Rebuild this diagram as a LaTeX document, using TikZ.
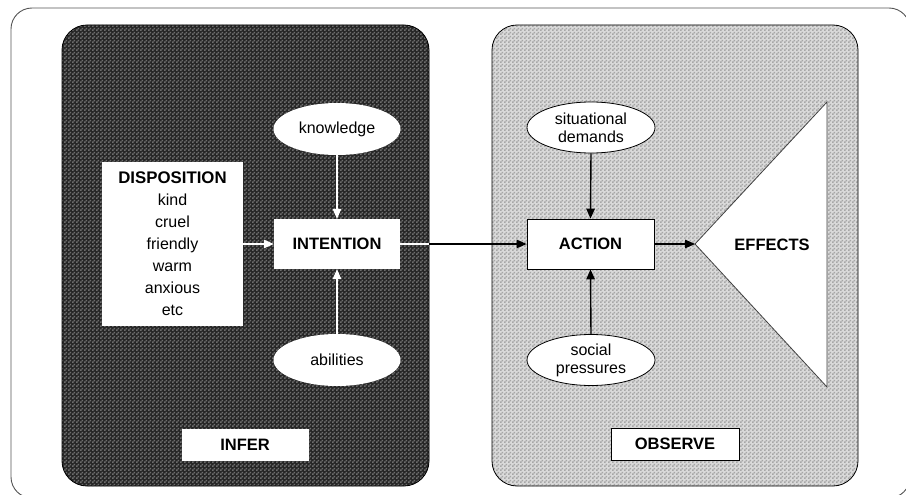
\documentclass[tikz,border=0pt]{standalone}
\usepackage{fontspec}
\setmainfont{Liberation Sans}
\usetikzlibrary{arrows.meta,shapes.geometric,patterns}

% fine two-tone checker used as the panel texture
\pgfdeclarepatternformonly{checkerfine}{\pgfpointorigin}{\pgfpoint{4pt}{4pt}}{\pgfpoint{4pt}{4pt}}{%
  \pgfpathrectangle{\pgfpointorigin}{\pgfpoint{2pt}{2pt}}%
  \pgfpathrectangle{\pgfpoint{2pt}{2pt}}{\pgfpoint{2pt}{2pt}}%
  \pgfusepath{fill}}

\definecolor{darkbase}{HTML}{262626}
\definecolor{darkdots}{HTML}{6E6E6E}
\definecolor{lightbase}{HTML}{DADADA}
\definecolor{lightdots}{HTML}{A6A6A6}
\definecolor{framegray}{HTML}{555555}

\begin{document}
\begin{tikzpicture}[x=1pt,y=-1pt,
  txt/.style={font=\fontsize{16}{18}\selectfont},
  heavy/.style={font=\fontsize{16.5}{20}\selectfont\bfseries},
  panel/.style={draw=black, line width=0.8pt, rounded corners=25pt, inner sep=0pt,
    minimum height=461pt, pattern=checkerfine},
  darkpanel/.style={panel, preaction={fill=darkbase}, pattern color=darkdots},
  lightpanel/.style={panel, preaction={fill=lightbase}, pattern color=lightdots},
  whitebox/.style={rectangle, fill=white, inner sep=0pt},
  linebox/.style={whitebox, draw=black, line width=0.8pt},
  whiteoval/.style={ellipse, fill=white, inner sep=0pt, minimum width=127pt,
    minimum height=52pt, align=center, txt},
  lineoval/.style={whiteoval, draw=black, line width=0.8pt},
  flow/.style={line width=1.4pt, -{Triangle[length=10pt,width=8.5pt]}},
  whiteflow/.style={flow, draw=white},
  blackflow/.style={flow, draw=black},
]
\useasboundingbox (0,0) rectangle (906,495);
\fill[white] (0,0) rectangle (906,495);

% outer frame, partly running off the page
\begin{scope}
  \clip (0,0) rectangle (906,495);
  \draw[framegray, line width=0.9pt, rounded corners=21pt] (11,8) rectangle (910,498);
\end{scope}

% the two panels
\node[darkpanel, minimum width=367pt] (inferpanel) at (245.5,255.5) {};
\node[lightpanel, minimum width=366pt] (observepanel) at (675,255.5) {};

% infer side
\node[whitebox, minimum width=141pt, minimum height=164pt, align=center,
      font=\fontsize{16}{22}\selectfont] (disposition) at (172.5,244)
  {{\fontsize{16.8}{22}\selectfont\bfseries DISPOSITION}\\kind\\cruel\\friendly\\warm\\anxious\\etc};
\node[whitebox, minimum width=126pt, minimum height=50pt, heavy] (intention) at (337,244) {INTENTION};
\node[whiteoval] (knowledge) at (337,129) {knowledge};
\node[whiteoval] (abilities) at (337,360) {abilities};
\node[whitebox, draw=white, minimum width=126pt, minimum height=31pt, heavy] (infer) at (245,444.5) {INFER};

% observe side
\node[linebox, minimum width=127pt, minimum height=50pt, heavy] (action) at (590.5,244) {ACTION};
\node[lineoval, minimum width=128pt, minimum height=51pt] (situational) at (591,127.5) {situational\\demands};
\node[lineoval, minimum width=128pt, minimum height=51pt] (social) at (591,360) {social\\pressures};
\node[linebox, minimum width=128pt, minimum height=32pt, heavy] (observe) at (675,444) {OBSERVE};

% effects wedge
\coordinate (tip) at (695,244);
\coordinate (wedgetop) at (827,102);
\coordinate (wedgebottom) at (827,387);
\draw[fill=white, draw=black!75, line width=0.8pt] (tip) -- (wedgetop) -- (wedgebottom) -- cycle;
\node[heavy] (effects) at (772,245) {EFFECTS};

% connectors
\draw[whiteflow] (disposition.east |- intention.west) -- (intention.west);
\draw[whiteflow] (knowledge.south) -- (intention.north);
\draw[whiteflow] (abilities.north) -- (intention.south);
\draw[blackflow] (intention.east) -- (action.west);
\draw[white, line width=1.4pt] (intention.east) -- (intention.east -| inferpanel.east);
\draw[blackflow] (situational.south) -- (action.north);
\draw[blackflow] (social.north) -- (action.south);
\draw[blackflow] (action.east) -- (tip);
\end{tikzpicture}
\end{document}
